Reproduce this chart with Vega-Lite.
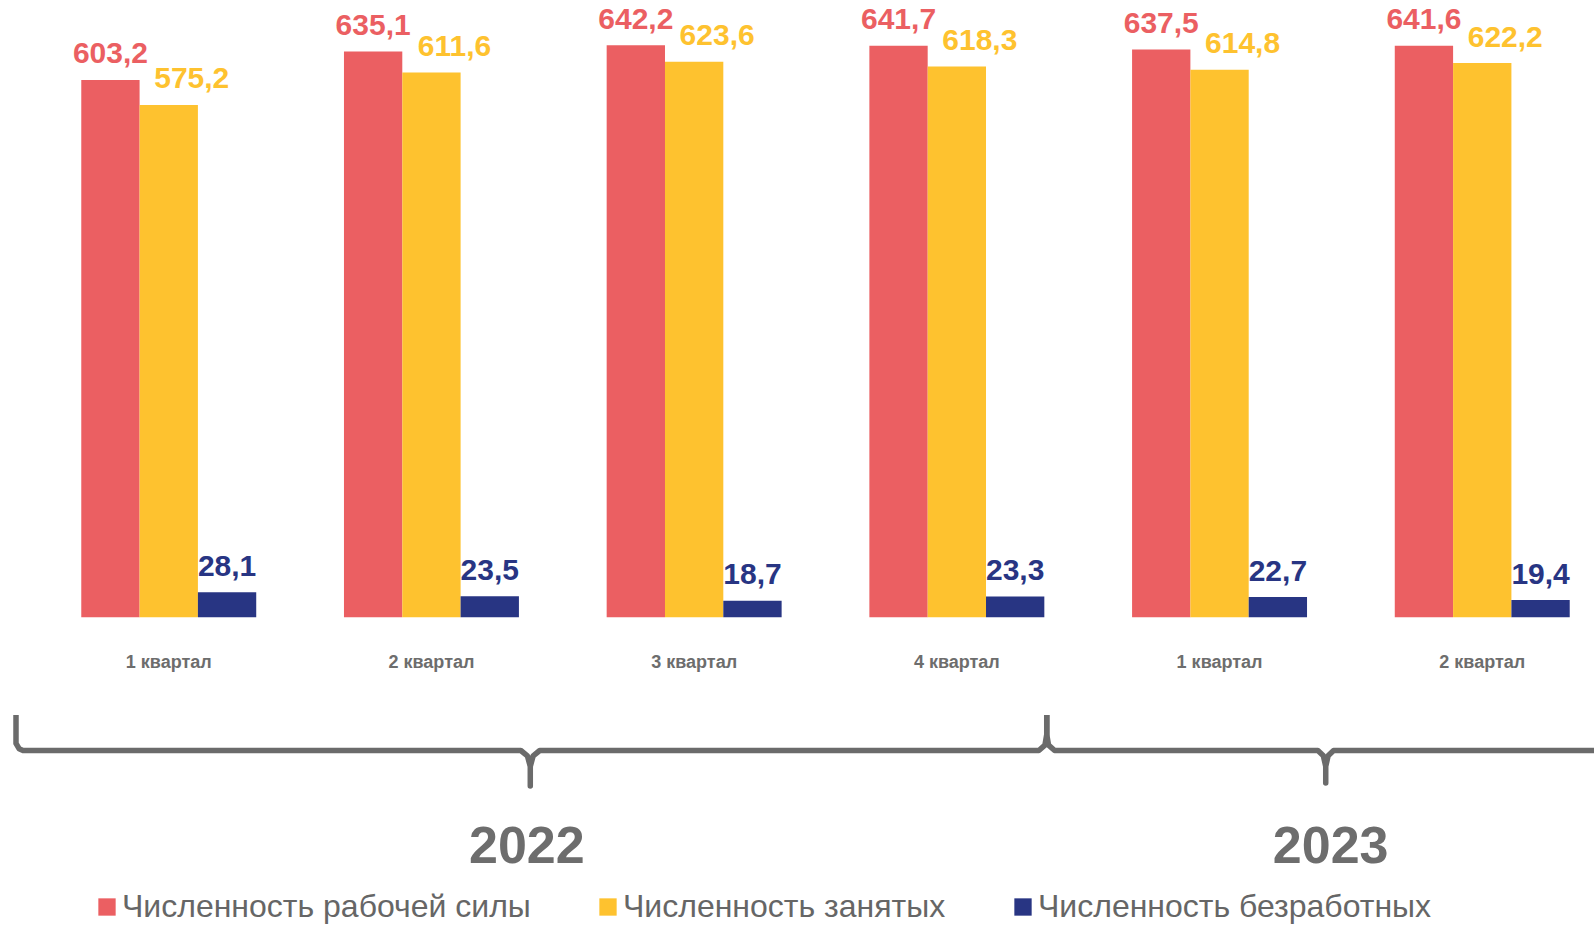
{
  "$schema": "https://vega.github.io/schema/vega-lite/v6.json",
  "width": 1594,
  "height": 925,
  "autosize": {"type": "none"},
  "padding": 0,
  "background": "#ffffff",
  "config": {
    "view": {"stroke": null},
    "locale": {"number": {"decimal": ",", "thousands": " ", "grouping": [3], "currency": ["", ""]}},
    "font": "Liberation Sans"
  },
  "datasets": {
    "bars": [
      {"period": "2022-1", "series": "Численность рабочей силы", "value": 603.2},
      {"period": "2022-1", "series": "Численность занятых", "value": 575.2},
      {"period": "2022-1", "series": "Численность безработных", "value": 28.1},
      {"period": "2022-2", "series": "Численность рабочей силы", "value": 635.1},
      {"period": "2022-2", "series": "Численность занятых", "value": 611.6},
      {"period": "2022-2", "series": "Численность безработных", "value": 23.5},
      {"period": "2022-3", "series": "Численность рабочей силы", "value": 642.2},
      {"period": "2022-3", "series": "Численность занятых", "value": 623.6},
      {"period": "2022-3", "series": "Численность безработных", "value": 18.7},
      {"period": "2022-4", "series": "Численность рабочей силы", "value": 641.7},
      {"period": "2022-4", "series": "Численность занятых", "value": 618.3},
      {"period": "2022-4", "series": "Численность безработных", "value": 23.3},
      {"period": "2023-1", "series": "Численность рабочей силы", "value": 637.5},
      {"period": "2023-1", "series": "Численность занятых", "value": 614.8},
      {"period": "2023-1", "series": "Численность безработных", "value": 22.7},
      {"period": "2023-2", "series": "Численность рабочей силы", "value": 641.6},
      {"period": "2023-2", "series": "Численность занятых", "value": 622.2},
      {"period": "2023-2", "series": "Численность безработных", "value": 19.4}
    ],
    "periods": [
      {"period": "2022-1", "qlabel": "1 квартал"},
      {"period": "2022-2", "qlabel": "2 квартал"},
      {"period": "2022-3", "qlabel": "3 квартал"},
      {"period": "2022-4", "qlabel": "4 квартал"},
      {"period": "2023-1", "qlabel": "1 квартал"},
      {"period": "2023-2", "qlabel": "2 квартал"}
    ],
    "brace": [
      {"year": "2022", "i": 0, "q": -0.5817, "d": 0},
      {"year": "2022", "i": 1, "q": -0.5817, "d": 0.8},
      {"year": "2022", "i": 2, "q": -0.570, "d": 0.95},
      {"year": "2022", "i": 3, "q": -0.555, "d": 1.0},
      {"year": "2022", "i": 4, "q": 1.340, "d": 1.0},
      {"year": "2022", "i": 5, "q": 1.365, "d": 1.15},
      {"year": "2022", "i": 6, "q": 1.376, "d": 1.45},
      {"year": "2022", "i": 7, "q": 1.376, "d": 2.0},
      {"year": "2022", "i": 8, "q": 1.376, "d": 1.45},
      {"year": "2022", "i": 9, "q": 1.387, "d": 1.15},
      {"year": "2022", "i": 10, "q": 1.412, "d": 1.0},
      {"year": "2022", "i": 11, "q": 3.312, "d": 1.0},
      {"year": "2022", "i": 12, "q": 3.335, "d": 0.85},
      {"year": "2022", "i": 13, "q": 3.342, "d": 0.55},
      {"year": "2022", "i": 14, "q": 3.342, "d": 0},
      {"year": "2023", "i": 0, "q": 3.342, "d": 0},
      {"year": "2023", "i": 1, "q": 3.342, "d": 0.55},
      {"year": "2023", "i": 2, "q": 3.349, "d": 0.85},
      {"year": "2023", "i": 3, "q": 3.372, "d": 1.0},
      {"year": "2023", "i": 4, "q": 4.374, "d": 1.0},
      {"year": "2023", "i": 5, "q": 4.395, "d": 1.15},
      {"year": "2023", "i": 6, "q": 4.404, "d": 1.45},
      {"year": "2023", "i": 7, "q": 4.404, "d": 1.915},
      {"year": "2023", "i": 8, "q": 4.404, "d": 1.45},
      {"year": "2023", "i": 9, "q": 4.413, "d": 1.15},
      {"year": "2023", "i": 10, "q": 4.434, "d": 1.0},
      {"year": "2023", "i": 11, "q": 5.4252, "d": 1.0}
    ],
    "years": [
      {"year": "2022", "q": 1.3628},
      {"year": "2023", "q": 4.4229}
    ]
  },
  "layer": [
    {
      "encoding": {
        "x": {
          "field": "period", "type": "nominal", "axis": null,
          "scale": {
            "domain": ["2022-1", "2022-2", "2022-3", "2022-4", "2023-1", "2023-2"],
            "range": [37.4, 1613.6], "paddingInner": 0.334, "paddingOuter": 0.167
          }
        }
      },
      "layer": [
        {
          "data": {"name": "bars"},
          "mark": {"type": "bar"},
          "encoding": {
            "xOffset": {
              "field": "series", "type": "nominal",
              "scale": {"domain": ["Численность рабочей силы", "Численность занятых", "Численность безработных"], "paddingInner": 0, "paddingOuter": 0}
            },
            "y": {"field": "value", "type": "quantitative", "axis": null,
                  "scale": {"domain": [0, 693], "range": [617.3, 0], "nice": false, "zero": false}},
            "color": {
              "field": "series", "type": "nominal",
              "scale": {
                "domain": ["Численность рабочей силы", "Численность занятых", "Численность безработных"],
                "range": ["#EB5F62", "#FEC22F", "#283583"]
              },
              "legend": {
                "orient": "none", "legendX": 91, "legendY": 891,
                "direction": "horizontal", "columns": 3, "title": null,
                "symbolType": "square", "symbolSize": 300, "symbolStrokeWidth": 0,
                "labelFont": "Liberation Sans", "labelFontSize": 32, "labelColor": "#666666",
                "labelLimit": 800, "labelOffset": -1, "columnPadding": 61, "padding": 0
              }
            }
          }
        },
        {
          "data": {"name": "bars"},
          "transform": [{"filter": "datum.series === 'Численность рабочей силы'"}],
          "mark": {"type": "text", "font": "Liberation Sans", "fontWeight": "bold", "fontSize": 30, "color": "#EB5F62", "baseline": "alphabetic", "align": "center", "dy": -16.5},
          "encoding": {
            "xOffset": {"field": "series", "type": "nominal"},
            "y": {"field": "value", "type": "quantitative"},
            "text": {"field": "value", "type": "quantitative", "format": ".1f"}
          }
        },
        {
          "data": {"name": "bars"},
          "transform": [{"filter": "datum.series === 'Численность занятых'"}],
          "mark": {"type": "text", "font": "Liberation Sans", "fontWeight": "bold", "fontSize": 30, "color": "#FEC22F", "baseline": "alphabetic", "align": "center", "dy": -16.5, "dx": 23},
          "encoding": {
            "xOffset": {"field": "series", "type": "nominal"},
            "y": {"field": "value", "type": "quantitative"},
            "text": {"field": "value", "type": "quantitative", "format": ".1f"}
          }
        },
        {
          "data": {"name": "bars"},
          "transform": [{"filter": "datum.series === 'Численность безработных'"}],
          "mark": {"type": "text", "font": "Liberation Sans", "fontWeight": "bold", "fontSize": 30, "color": "#283583", "baseline": "alphabetic", "align": "center", "dy": -16.5},
          "encoding": {
            "xOffset": {"field": "series", "type": "nominal"},
            "y": {"field": "value", "type": "quantitative"},
            "text": {"field": "value", "type": "quantitative", "format": ".1f"}
          }
        },
        {
          "data": {"name": "periods"},
          "mark": {"type": "text", "font": "Liberation Sans", "fontWeight": "bold", "fontSize": 18, "color": "#6d6d6d", "baseline": "alphabetic", "align": "center", "dy": 51},
          "encoding": {
            "y": {"datum": 0, "type": "quantitative"},
            "text": {"field": "qlabel", "type": "nominal"}
          }
        }
      ]
    },
    {
      "encoding": {
        "x": {"field": "q", "type": "quantitative", "axis": null,
              "scale": {"domain": [-0.6426, 5.4252], "nice": false, "zero": false}}
      },
      "layer": [
        {
          "data": {"name": "brace"},
          "mark": {"type": "line", "color": "#6b6b6b", "strokeWidth": 5.5, "strokeJoin": "round", "strokeCap": "butt", "interpolate": "linear"},
          "encoding": {
            "y": {"field": "d", "type": "quantitative", "axis": null,
                  "scale": {"domain": [0, 2], "range": [715, 786], "nice": false, "zero": false}},
            "detail": {"field": "year", "type": "nominal"},
            "order": {"field": "i", "type": "quantitative"}
          }
        },
        {
          "data": {"name": "years"},
          "mark": {"type": "text", "font": "Liberation Sans", "fontWeight": "bold", "fontSize": 52, "color": "#6d6d6d", "baseline": "alphabetic", "align": "center", "dy": 77.3},
          "encoding": {
            "y": {"datum": 2, "type": "quantitative"},
            "text": {"field": "year", "type": "nominal"}
          }
        }
      ]
    }
  ],
  "resolve": {"scale": {"x": "independent", "y": "independent"}}
}
